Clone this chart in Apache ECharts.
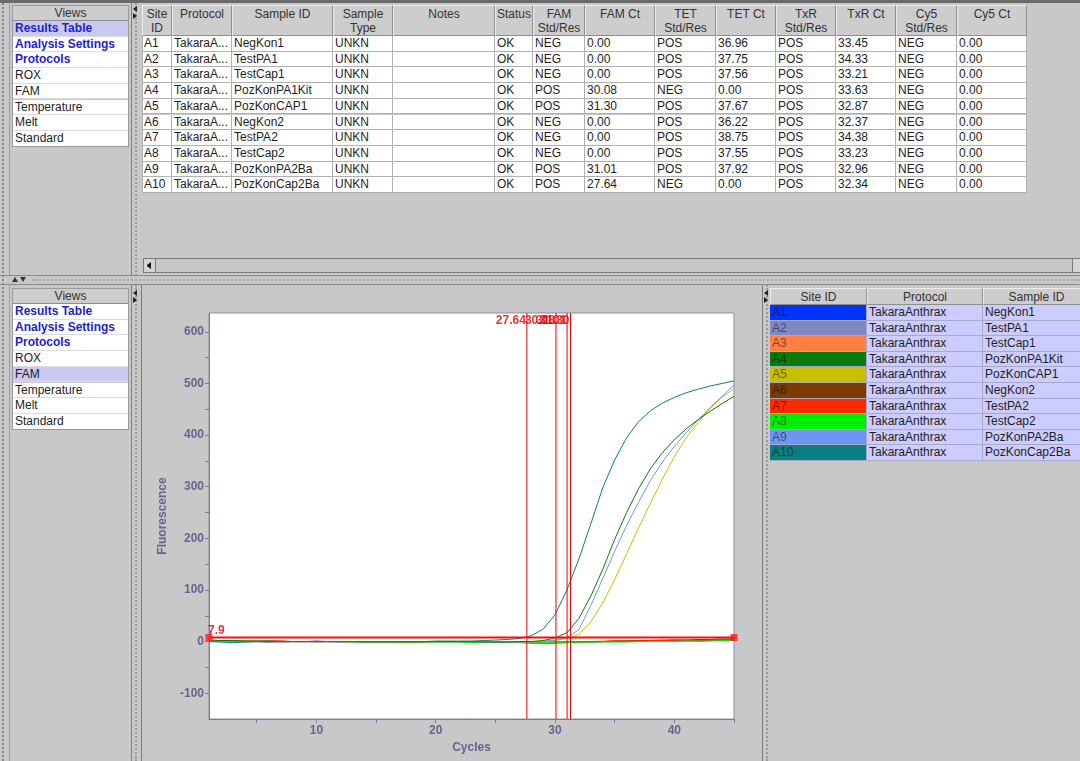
<!DOCTYPE html>
<html>
<head>
<meta charset="utf-8">
<script src="https://cdn.jsdelivr.net/npm/echarts@6/dist/echarts.min.js"></script>
<style>
html,body{margin:0;padding:0;}
body{width:1080px;height:761px;overflow:hidden;background:#c8c8c8;position:relative;font-family:"Liberation Sans",Arial,sans-serif;font-size:12px;color:#1e1e1e;}
.a{position:absolute;box-sizing:border-box;}
.hd{background:#cdcdcd;border-right:1px solid #8e8e8e;border-bottom:1px solid #8e8e8e;border-left:1px solid #ededed;border-top:1px solid #ededed;text-align:center;color:#333;line-height:14px;padding-top:1px;white-space:nowrap;overflow:hidden;}
.td{background:#fff;border-right:1px solid #b0b0b0;border-bottom:1px solid #b0b0b0;padding-left:2px;line-height:14px;white-space:nowrap;overflow:hidden;}
.vl{background:#fff;border-bottom:1px solid #dcdcdc;padding-left:3px;line-height:15px;white-space:nowrap;}
.vb{font-weight:bold;color:#2323c8;}
.sel{background:#c9c9f2;}
.lg{background:#ccccff;border-right:1px solid #a8a8c8;border-bottom:1px solid #a8a8c8;padding-left:2px;line-height:14px;white-space:nowrap;overflow:hidden;}
.tri-l{width:0;height:0;border-top:3px solid transparent;border-bottom:3px solid transparent;border-right:4px solid #222;}
.tri-r{width:0;height:0;border-top:3px solid transparent;border-bottom:3px solid transparent;border-left:4px solid #222;}
</style>
</head>
<body>
<div id="ui"></div>
<div id="chart" class="a" style="left:142px;top:285px;width:620px;height:476px;"></div>
<script>
// ---------------- data ----------------
const siteIds = ['A1','A2','A3','A4','A5','A6','A7','A8','A9','A10'];
const protocolName = 'TakaraAnthrax';
const protocolShort = 'TakaraA...';
const sampleIds = ['NegKon1','TestPA1','TestCap1','PozKonPA1Kit','PozKonCAP1','NegKon2','TestPA2','TestCap2','PozKonPA2Ba','PozKonCap2Ba'];
const sampleTypes = ['UNKN','UNKN','UNKN','UNKN','UNKN','UNKN','UNKN','UNKN','UNKN','UNKN'];
const notes = ['','','','','','','','','',''];
const statuses = ['OK','OK','OK','OK','OK','OK','OK','OK','OK','OK'];
const famRes = ['NEG','NEG','NEG','POS','POS','NEG','NEG','NEG','POS','POS'];
const famCt = ['0.00','0.00','0.00','30.08','31.30','0.00','0.00','0.00','31.01','27.64'];
const tetRes = ['POS','POS','POS','NEG','POS','POS','POS','POS','POS','NEG'];
const tetCt = ['36.96','37.75','37.56','0.00','37.67','36.22','38.75','37.55','37.92','0.00'];
const txrRes = ['POS','POS','POS','POS','POS','POS','POS','POS','POS','POS'];
const txrCt = ['33.45','34.33','33.21','33.63','32.87','32.37','34.38','33.23','32.96','32.34'];
const cy5Res = ['NEG','NEG','NEG','NEG','NEG','NEG','NEG','NEG','NEG','NEG'];
const cy5Ct = ['0.00','0.00','0.00','0.00','0.00','0.00','0.00','0.00','0.00','0.00'];
const tableHeaders = ['Site\nID','Protocol','Sample ID','Sample\nType','Notes','Status','FAM\nStd/Res','FAM Ct','TET\nStd/Res','TET Ct','TxR\nStd/Res','TxR Ct','Cy5\nStd/Res','Cy5 Ct'];
const legendHeaders = ['Site ID','Protocol','Sample ID'];
const viewItems = ['Results Table','Analysis Settings','Protocols','ROX','FAM','Temperature','Melt','Standard'];

const cycles = [1,2,3,4,5,6,7,8,9,10,11,12,13,14,15,16,17,18,19,20,21,22,23,24,25,26,27,28,29,30,31,32,33,34,35,36,37,38,39,40,41,42,43,44,45];
const valsA1 = [1,1,0,0,0,-1,0,0,0,1,0,0,0,-1,-1,0,0,0,0,0,0,0,-1,0,0,0,-1,-1,-2,-1,-1,0,0,0,1,1,1,2,2,2,2,1,2,2,2];
const valsA2 = [2,1,1,0,0,0,-1,0,0,0,0,-1,0,0,0,0,-1,-1,0,0,0,0,0,0,0,-1,-1,-2,-2,-2,-1,-1,0,0,0,1,1,1,2,2,1,2,2,3,3];
const valsA3 = [0,1,2,1,0,0,0,0,0,-1,0,0,0,0,0,-1,-1,-1,0,0,0,0,0,0,0,-1,-1,-1,-2,-1,-1,0,0,1,1,1,2,2,2,3,3,3,3,4,4];
const valsA4 = [3,2,2,1,1,1,0,0,0,0,0,0,0,0,0,0,0,0,0,0,0,0,0,-1,-1,-1,0,0,2,7,17,45,88,140,198,250,296,335,366,391,412,430,446,461,475];
const valsA5 = [2,1,1,1,0,0,0,0,0,0,0,0,0,0,0,0,0,0,0,0,0,0,0,-1,-1,-1,-1,-1,0,2,6,14,38,75,120,170,220,268,315,358,395,425,452,473,490];
const valsA6 = [1,2,2,1,1,1,1,0,0,0,0,0,0,0,0,-1,-1,-1,-1,0,0,0,0,0,0,-1,-2,-3,-3,-3,-2,-1,0,0,1,1,2,2,3,3,3,4,4,5,5];
const valsA7 = [2,1,1,0,0,1,1,0,0,0,0,0,0,-1,-1,0,0,0,0,0,0,0,0,0,0,-1,-1,-1,-1,-1,-1,0,-1,0,1,1,1,2,2,3,3,2,3,3,4];
const valsA8 = [1,1,1,0,0,0,0,0,0,0,0,0,-1,-1,-1,-1,-1,-1,-1,-1,-1,-1,-2,-2,-2,-2,-2,-2,-2,-2,-2,-1,-1,-1,-1,-1,0,0,0,0,1,1,1,2,2];
const valsA9 = [1,1,1,0,0,0,0,0,0,0,0,0,0,0,0,0,0,0,0,0,0,0,0,0,-1,-1,-1,0,1,3,8,23,70,122,175,225,270,312,348,378,405,430,453,475,497];
const valsA10 = [0,-1,-2,-1,0,0,0,0,0,0,0,0,0,0,0,0,0,0,0,1,1,1,1,2,3,4,6,11,24,52,100,160,228,298,352,395,426,447,462,473,482,489,495,500,505];
const allVals = [valsA1,valsA2,valsA3,valsA4,valsA5,valsA6,valsA7,valsA8,valsA9,valsA10];
const threshold = 7.9;
const ctValues = [27.64, 30.08, 31.01, 31.30];
const xTickValues = [5,10,15,20,25,30,35,40,45];
const xLabelValues = [10,20,30,40];
const yTickValues = [-100,-50,0,50,100,150,200,250,300,350,400,450,500,550,600];
const yLabelValues = [-100,0,100,200,300,400,500,600];

// ---------------- styles ----------------
const seriesColors = ['#0033ff','#8088c4','#ff8040','#0a7a0a','#c8bf00','#7a3c00','#ff2a00','#00ee00','#6f95f2','#0b7f7f'];
const drawOrder = [0,1,2,5,6,7,4,8,3,9];

// ---------------- UI chrome ----------------
const ui = document.getElementById('ui');
function box(x,y,w,h,cls,html,style){
  const d=document.createElement('div');
  d.className='a '+(cls||'');
  d.style.left=x+'px';d.style.top=y+'px';d.style.width=w+'px';d.style.height=h+'px';
  if(style) d.style.cssText+=style;
  if(html!==undefined) d.innerHTML=html;
  ui.appendChild(d);return d;
}
box(0,0,1080,3,'','', 'background:#6a6a6a;');
box(2,3,0,758,'','', 'border-left:2px dotted #8a8a8a;');
box(9,3,123,273,'','', 'border-right:1px solid #808080;border-left:1px solid #a0a0a0;');
box(135,3,6,273,'','', 'border-left:2px dotted #9a9a9a;');
box(133,6,4,6,'tri-l');
box(133,13,4,6,'tri-r');
box(0,275,1080,1,'','', 'background:#8a8a8a;');
box(32,279,1048,0,'','', 'border-top:2px dotted #a8a8a8;');
box(0,284,1080,1,'','', 'background:#8a8a8a;');
box(12,277,6,5,'','','width:0;height:0;border-left:3px solid transparent;border-right:3px solid transparent;border-bottom:5px solid #333;');
box(20,277,6,5,'','','width:0;height:0;border-left:3px solid transparent;border-right:3px solid transparent;border-top:5px solid #333;');

function viewsList(y0, selIdx){
  box(12,y0,117,16,'hd','Views','line-height:13px;');
  viewItems.forEach((t,i)=>{
    const cls='vl'+(i<3?' vb':'')+(i===selIdx?' sel':'');
    box(12,y0+16+i*15.7,117,15.7,cls,t);
  });
  box(12,y0,117,16+8*15.7,'','','border:1px solid #9a9a9a;');
}
viewsList(5,0);
viewsList(288,4);

const colEdges=[142,172,232,333,393,495,533,585,655,716,776,836,896,957,1027];
const tableCols=[siteIds, siteIds.map(()=>protocolShort), sampleIds, sampleTypes, notes, statuses, famRes, famCt, tetRes, tetCt, txrRes, txrCt, cy5Res, cy5Ct];
tableHeaders.forEach((h,c)=>{
  box(colEdges[c],5,colEdges[c+1]-colEdges[c],31,'hd',h.replace('\n','<br>'));
});
for(let r=0;r<10;r++){
  tableCols.forEach((col,c)=>{
    box(colEdges[c],36+r*15.7,colEdges[c+1]-colEdges[c],15.7,'td',col[r]);
  });
}
box(142,36,1,157,'','','background:#b0b0b0;');
box(143,258,937,15,'','','border:1px solid #7a7a7a;background:#c8c8c8;');
box(144,259,12,13,'','','border-right:1px solid #7a7a7a;background:#d4d4d4;');
box(147,262,4,7,'tri-l','','border-right-color:#111;');
box(1072,259,8,13,'','','border-left:1px solid #7a7a7a;background:#d4d4d4;');

box(9,285,123,476,'','', 'border-right:1px solid #808080;border-left:1px solid #a0a0a0;');
box(135,285,6,476,'','', 'border-left:2px dotted #9a9a9a;');
box(133,290,4,6,'tri-l');
box(133,297,4,6,'tri-r');
box(141,285,1,476,'','','background:#7a7a7a;');
box(762,285,1,476,'','','background:#7a7a7a;');
box(766,285,3,476,'','', 'border-left:2px dotted #9a9a9a;');
box(764,290,4,6,'tri-l');
box(764,297,4,6,'tri-r');

const lgEdges=[770,867,983,1090];
legendHeaders.forEach((h,c)=>box(lgEdges[c],288,lgEdges[c+1]-lgEdges[c],17,'hd',h));
for(let r=0;r<10;r++){
  const y=305+r*15.6;
  box(lgEdges[0],y,lgEdges[1]-lgEdges[0],15.6,'lg',siteIds[r],'background:'+seriesColors[r]+';color:rgba(0,0,0,0.5);');
  box(lgEdges[1],y,lgEdges[2]-lgEdges[1],15.6,'lg',protocolName);
  box(lgEdges[2],y,lgEdges[3]-lgEdges[2],15.6,'lg',sampleIds[r]);
}

// ---------------- chart ----------------
const font='"Liberation Sans", Arial, sans-serif';
const axisColor='#7a7aa4';
const labelColor='#64648e';
const red='#e40000';
const yMin=-150, yMax=636.5;
const chart=echarts.init(document.getElementById('chart'),null,{renderer:'canvas'});
const series=[];
drawOrder.forEach(i=>{
  series.push({type:'line',name:siteIds[i],color:seriesColors[i],data:cycles.map((c,k)=>[c,allVals[i][k]]),symbol:'none',
    lineStyle:{width:1,color:seriesColors[i]},itemStyle:{color:seriesColors[i]},silent:true,z:2});
});
ctValues.forEach(ct=>{
  series.push({type:'line',color:red,data:[[ct,yMin],[ct,yMax]],symbol:'none',lineStyle:{width:1,color:red},silent:true,z:3});
});
series.push({type:'scatter',color:red,data:ctValues.map(ct=>[ct,621]),symbolSize:0.01,silent:true,z:6,
  label:{show:true,position:'left',distance:1,formatter:p=>p.value[0].toFixed(2),color:red,fontWeight:'bold',fontSize:12,fontFamily:font}});
// threshold line
series.push({type:'line',color:'#ff0a0a',data:[[cycles[0],threshold],[cycles[cycles.length-1],threshold]],symbol:'none',
  lineStyle:{width:2,color:'#ff0a0a',type:'solid'},silent:true,z:7});
// threshold handles
series.push({type:'scatter',color:red,clip:false,symbol:'rect',symbolSize:7,silent:true,z:8,itemStyle:{color:'#ff1a1a'},
  data:[{value:[cycles[0],threshold],label:{show:true,formatter:String(threshold),position:'top',align:'left',distance:0,offset:[-1,3],color:red,fontWeight:'bold',fontSize:12,fontFamily:font}},
        {value:[cycles[cycles.length-1],threshold]}]});

chart.setOption({
  animation:false,
  backgroundColor:'#c8c8c8',
  grid:{left:67,right:28,top:28,bottom:42,show:true,backgroundColor:'#ffffff',borderColor:'#8a8aae',borderWidth:1},
  xAxis:{type:'value',min:1,max:45,
    axisLine:{show:true,onZero:false,lineStyle:{color:axisColor}},
    axisTick:{show:true,length:4,lineStyle:{color:axisColor},customValues:xTickValues},
    axisLabel:{customValues:xLabelValues,color:labelColor,fontWeight:'bold',fontSize:12,margin:6,fontFamily:font},
    splitLine:{show:false},
    name:'Cycles',nameLocation:'middle',nameGap:23,nameTextStyle:{color:labelColor,fontWeight:'bold',fontSize:12,fontFamily:font}},
  yAxis:{type:'value',min:yMin,max:yMax,
    axisLine:{show:true,onZero:false,lineStyle:{color:axisColor}},
    axisTick:{show:true,length:4,lineStyle:{color:axisColor},customValues:yTickValues},
    axisLabel:{customValues:yLabelValues,color:labelColor,fontWeight:'bold',fontSize:12,margin:5,fontFamily:font},
    splitLine:{show:false},
    name:'Fluorescence',nameLocation:'middle',nameGap:31,nameTextStyle:{color:labelColor,fontWeight:'bold',fontSize:12,fontFamily:font}},
  series:series
});
</script>
</body>
</html>
